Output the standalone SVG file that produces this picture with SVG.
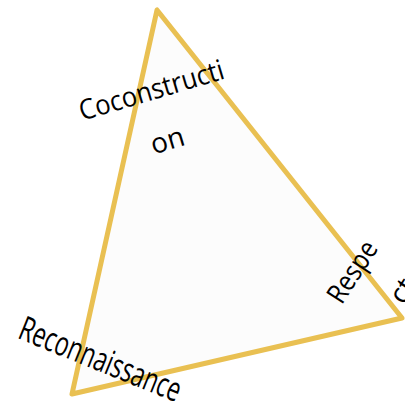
<svg xmlns="http://www.w3.org/2000/svg" width="405" height="409" viewBox="0 0 405 409">
<style>
.lbl{font-family:"Open Sans","DejaVu Sans",sans-serif;fill:#000;text-anchor:middle;dominant-baseline:central}
</style>
<rect width="405" height="409" fill="#ffffff"/>
<g id="triangle">
<polygon points="157,10 72,394 402,318" fill="#fcfcfc" stroke="#E9C052" stroke-width="5" stroke-linejoin="round"/>
</g>
<g id="node-coconstruction">
<text class="lbl" font-size="28" transform="translate(151,89) rotate(-16.5)" textLength="150" lengthAdjust="spacingAndGlyphs">Coconstructi</text>
<text class="lbl" font-size="28" transform="translate(167,139) rotate(-16.5)">on</text>
</g>
<g id="node-respect">
<text class="lbl" font-size="28" transform="translate(351,271) rotate(-57)" textLength="68" lengthAdjust="spacingAndGlyphs">Respe</text>
<text class="lbl" font-size="28" transform="translate(401,290) rotate(-57)">ct</text>
</g>
<g id="node-reconnaissance">
<text class="lbl" font-size="34" transform="translate(101,358) rotate(22)" textLength="172" lengthAdjust="spacingAndGlyphs">Reconnaissance</text>
</g>
<g id="connectors"></g>
</svg>
